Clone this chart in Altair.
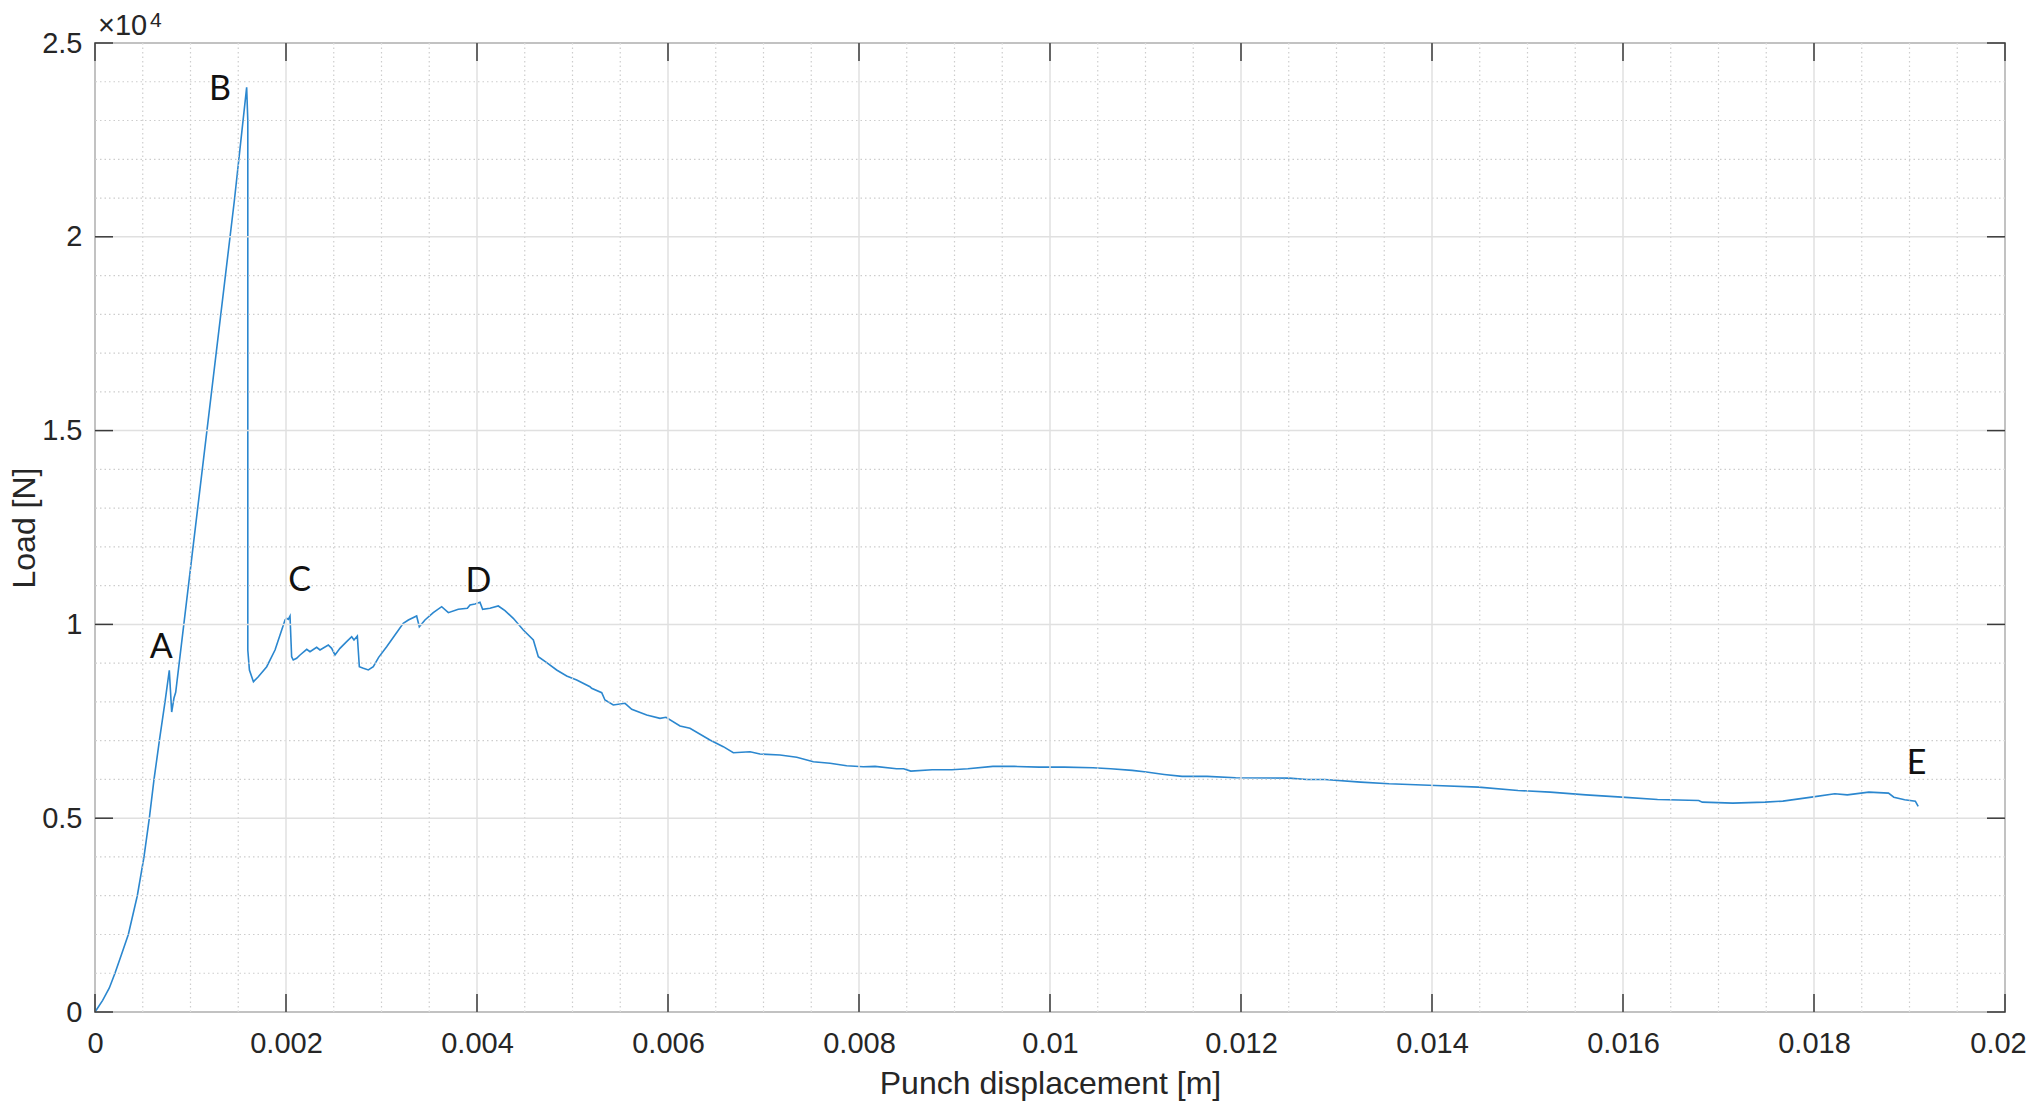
import altair as alt
import pandas as pd

# ---- data ----
disp = [0, 0.00008, 0.00015, 0.000209, 0.00028, 0.000349, 0.000443, 0.000513, 0.000569, 0.000618,
        0.000674, 0.000733, 0.000778, 0.000803, 0.000827, 0.000845, 0.00101, 0.00146, 0.001588, 0.0016,
        0.0016, 0.001617, 0.001659, 0.00171, 0.001798, 0.001885, 0.001955, 0.00199, 0.002007, 0.002024,
        0.002042, 0.002059, 0.002076, 0.002111, 0.002147, 0.002217, 0.002251, 0.002321, 0.002356, 0.002443,
        0.002478, 0.002513, 0.002565, 0.002635, 0.002688, 0.002712, 0.002747, 0.002768, 0.00281, 0.002862,
        0.002914, 0.00297, 0.003054, 0.003141, 0.003228, 0.003281, 0.003368, 0.003396, 0.003455, 0.003542,
        0.00363, 0.0037, 0.003804, 0.003899, 0.003927, 0.003979, 0.004031, 0.004059, 0.004136, 0.004223,
        0.004293, 0.00438, 0.004485, 0.00459, 0.004642, 0.00473, 0.004834, 0.004939, 0.005044, 0.005183,
        0.0052, 0.005306, 0.00534, 0.005427, 0.00555, 0.00562, 0.005777, 0.005916, 0.005979, 0.006126,
        0.00623, 0.006439, 0.006579, 0.006684, 0.006859, 0.006963, 0.007173, 0.007348, 0.007522, 0.007696,
        0.007871, 0.008045, 0.008168, 0.008393, 0.008467, 0.008542, 0.008766, 0.008972, 0.00914, 0.009402,
        0.009626, 0.009888, 0.01015, 0.010449, 0.010635, 0.01086, 0.011009, 0.011196, 0.011383, 0.011645,
        0.011944, 0.012504, 0.012691, 0.012878, 0.013252, 0.013551, 0.014037, 0.014487, 0.0149, 0.015237,
        0.015612, 0.015987, 0.016362, 0.016793, 0.01683, 0.017149, 0.017487, 0.017674, 0.017974, 0.018218,
        0.018349, 0.018574, 0.01878, 0.018836, 0.018949, 0.019061, 0.019091]
load = [0, 300, 620, 1000, 1500, 2000, 3000, 4000, 5000, 6000,
        7000, 8000, 8813, 7739, 8100, 8250, 11650, 20950, 23857, 23000,
        9340, 8824, 8523, 8651, 8909, 9340, 9856, 10114, 10157, 10131,
        10217, 9167, 9082, 9125, 9211, 9358, 9296, 9409, 9340, 9469,
        9383, 9211, 9383, 9554, 9683, 9598, 9701, 8909, 8867, 8824,
        8909, 9150, 9425, 9727, 10028, 10114, 10217, 9941, 10114, 10303,
        10457, 10303, 10389, 10415, 10501, 10526, 10570, 10389, 10415, 10475,
        10354, 10157, 9856, 9598, 9167, 9012, 8824, 8669, 8566, 8393,
        8351, 8239, 8050, 7921, 7964, 7810, 7663, 7577, 7603, 7379,
        7319, 7018, 6845, 6690, 6716, 6656, 6631, 6571, 6458, 6416,
        6355, 6329, 6336, 6276, 6276, 6216, 6250, 6250, 6276, 6336,
        6336, 6319, 6319, 6302, 6276, 6233, 6190, 6129, 6078, 6078,
        6043, 6034, 6000, 6000, 5931, 5888, 5845, 5802, 5716, 5672,
        5603, 5543, 5483, 5457, 5414, 5388, 5414, 5440, 5543, 5629,
        5603, 5672, 5647, 5543, 5474, 5440, 5302]

x_major = [0, 0.002, 0.004, 0.006, 0.008, 0.01, 0.012, 0.014, 0.016, 0.018, 0.02]
x_minor = [0.0005, 0.001, 0.0015, 0.0025, 0.003, 0.0035, 0.0045, 0.005, 0.0055, 0.0065,
           0.007, 0.0075, 0.0085, 0.009, 0.0095, 0.0105, 0.011, 0.0115, 0.0125, 0.013,
           0.0135, 0.0145, 0.015, 0.0155, 0.0165, 0.017, 0.0175, 0.0185, 0.019, 0.0195]
y_major = [0, 5000, 10000, 15000, 20000, 25000]
y_minor = [1000, 2000, 3000, 4000, 6000, 7000, 8000, 9000, 11000, 12000,
           13000, 14000, 16000, 17000, 18000, 19000, 21000, 22000, 23000, 24000]

point_names = ["A", "B", "C", "D", "E"]
point_x = [0.000695, 0.001309, 0.002143, 0.004014, 0.019073]
point_y = [9402, 23780, 11120, 11100, 6405]

exponent_base = ["×10"]
exponent_power = ["4"]

# ---- chart ----
W, H = 1910, 969
TICK = 18
AXIS_FONT = "Liberation Sans"
TXT = "#262626"
EDGE = "#3a3a3a"

xs = alt.Scale(domain=[0, 0.02], nice=False, zero=False)
ys = alt.Scale(domain=[0, 25000], nice=False, zero=False)

X_AXIS = alt.Axis(
    values=x_major, labelExpr="format(datum.value, '~g')", title="Punch displacement [m]",
    grid=False, ticks=False, tickSize=0, domain=False, labelFont=AXIS_FONT, labelFontSize=29,
    labelColor=TXT, labelPadding=17, labelFlush=False, labelOverlap=False, labelBound=False,
    labelOffset={"condition": {"test": "datum.value > 0.0199", "value": -7}, "value": 0},
    titleFont=AXIS_FONT, titleFontSize=32, titleFontWeight="normal", titleColor=TXT,
    titlePadding=10)
Y_AXIS = alt.Axis(
    values=y_major, labelExpr="datum.value / 10000 + ''", title="Load [N]",
    grid=False, ticks=False, tickSize=0, domain=False, labelFont=AXIS_FONT, labelFontSize=29,
    labelColor=TXT, labelPadding=13, labelFlush=False, labelOverlap=False, labelBound=False,
    titleFont=AXIS_FONT, titleFontSize=32, titleFontWeight="normal", titleColor=TXT,
    titlePadding=0)


def X(field):
    return alt.X(field, scale=xs, axis=X_AXIS)


def Y(field):
    return alt.Y(field, scale=ys, axis=Y_AXIS)


curve = pd.DataFrame({"idx": list(range(len(disp))), "disp": disp, "load": load})
xmaj = pd.DataFrame({"v": x_major})
xmin = pd.DataFrame({"v": x_minor})
ymaj = pd.DataFrame({"v": y_major})
ymin = pd.DataFrame({"v": y_minor})
pts = pd.DataFrame({"name": point_names, "x": point_x, "y": point_y})

minor_style = dict(color="#cdcdcd", strokeWidth=1.2, strokeDash=[1.5, 3])
major_style = dict(color="#e0e0e0", strokeWidth=1.5)

line = alt.Chart(curve).mark_line(color="#2b87cf", strokeWidth=1.6).encode(
    x=X("disp:Q"), y=Y("load:Q"), order="idx:Q")

gx_minor = alt.Chart(xmin).mark_rule(**minor_style).encode(x=X("v:Q"))
gy_minor = alt.Chart(ymin).mark_rule(**minor_style).encode(y=Y("v:Q"))
gx_major = alt.Chart(xmaj).mark_rule(**major_style).encode(x=X("v:Q"))
gy_major = alt.Chart(ymaj).mark_rule(**major_style).encode(y=Y("v:Q"))

tick_style = dict(color=EDGE, strokeWidth=1.5)
t_bottom = alt.Chart(xmaj).mark_rule(**tick_style).encode(
    x=X("v:Q"), y=alt.value(H), y2=alt.value(H - TICK))
t_top = alt.Chart(xmaj).mark_rule(**tick_style).encode(
    x=X("v:Q"), y=alt.value(0), y2=alt.value(TICK))
t_left = alt.Chart(ymaj).mark_rule(**tick_style).encode(
    y=Y("v:Q"), x=alt.value(0), x2=alt.value(TICK))
t_right = alt.Chart(ymaj).mark_rule(**tick_style).encode(
    y=Y("v:Q"), x=alt.value(W), x2=alt.value(W - TICK))

letters = alt.Chart(pts).mark_text(font="Lato", fontSize=34, color="#111111",
                                   align="center", baseline="middle").encode(
    x=X("x:Q"), y=Y("y:Q"), text="name:N")

exp_base = alt.Chart(pd.DataFrame({"t": exponent_base})).mark_text(
    font=AXIS_FONT, fontSize=29, color=TXT, align="left", baseline="alphabetic").encode(
    x=alt.value(3), y=alt.value(-8), text="t:N")
exp_pow = alt.Chart(pd.DataFrame({"t": exponent_power})).mark_text(
    font=AXIS_FONT, fontSize=21, color=TXT, align="left", baseline="alphabetic").encode(
    x=alt.value(55), y=alt.value(-16), text="t:N")

chart = alt.layer(
    line, gx_minor, gy_minor, gx_major, gy_major,
    t_bottom, t_top, t_left, t_right, letters, exp_base, exp_pow,
).properties(
    width=W, height=H,
    padding={"left": 87, "top": 35, "right": 21, "bottom": 92},
    autosize=alt.AutoSizeParams(type="none"),
).configure(background="white").configure_view(stroke=EDGE, strokeWidth=1.5)

chart.save("out.html", embed_options={"renderer": "svg", "actions": False})
